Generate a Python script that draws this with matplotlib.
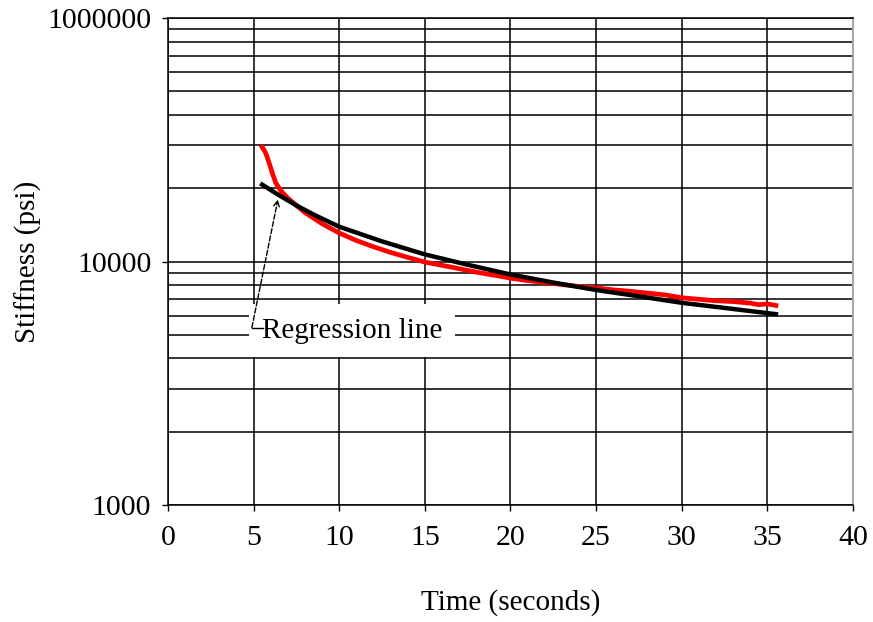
import numpy as np
import matplotlib.pyplot as plt
from matplotlib.ticker import LogLocator, NullFormatter

time_s = [5.5, 5.7, 5.9, 6.1, 6.3, 6.6, 7.0, 7.5, 8.0, 9.0, 10.0, 11.0, 12.0, 13.0,
          14.0, 15.0, 16.0, 17.0, 18.0, 19.0, 20.0, 21.0, 22.0, 23.0, 24.0, 25.0,
          26.0, 27.0, 28.0, 29.0, 30.0, 31.0, 32.0, 33.0, 34.0, 34.5, 35.0, 35.5]
stiffness = [29500, 28000, 25500, 23000, 21000, 19500, 18200, 17000, 15900, 14300,
             13100, 12200, 11500, 10900, 10400, 9950, 9650, 9350, 9050, 8800, 8550,
             8350, 8200, 8050, 7900, 7800, 7650, 7550, 7420, 7300, 7100, 7000, 6900,
             6850, 6750, 6650, 6700, 6600]

# regression line (black)
time_fit = [5.5, 6.5, 7.5, 8.5, 10.0, 12.5, 15.0, 17.5, 20.0, 22.5, 25.0, 27.5,
            30.0, 32.5, 35.5]
stiff_fit = [20700, 18700, 17000, 15600, 13900, 12100, 10700, 9700, 8850, 8200,
             7640, 7200, 6770, 6450, 6080]

ytick_vals = [1000, 10000, 100000]
ytick_labels = ['1000', '10000', '1000000']
xtick_vals = [0, 5, 10, 15, 20, 25, 30, 35, 40]

plt.rcParams['font.family'] = ['Liberation Serif', 'DejaVu Serif']

fig = plt.figure(figsize=(8.73, 6.22), dpi=100)
ax = fig.add_axes([0.1924, 0.188, 0.7847, 0.783])

ax.set_yscale('log')
ax.set_xlim(0, 40)
ax.set_ylim(1000, 100000)
ax.set_xticks(xtick_vals)
ax.set_xticklabels([str(v) for v in xtick_vals])
ax.set_yticks(ytick_vals)
ax.set_yticklabels(ytick_labels)
ax.yaxis.set_minor_locator(LogLocator(base=10, subs=range(2, 10)))
ax.yaxis.set_minor_formatter(NullFormatter())
ax.tick_params(axis='both', which='major', labelsize=21.5, length=4, width=1, pad=8)
ax.tick_params(axis='x', which='major', pad=10)
ax.tick_params(axis='y', which='minor', length=0)

ax.grid(which='both', axis='y', color='black', lw=1.1, zorder=0)
ax.grid(which='major', axis='x', color='black', lw=1.1, zorder=0)
ax.set_axisbelow(True)

for side in ['left', 'bottom', 'top']:
    ax.spines[side].set_color('black')
    ax.spines[side].set_linewidth(1.1)
ax.spines['right'].set_color('#a8a8a8')
ax.spines['right'].set_linewidth(1.5)

ax.plot(time_s, stiffness, color='red', lw=3.4, zorder=3)
ax.plot(time_fit, stiff_fit, color='black', lw=3.2, zorder=4)

ax.set_xlabel('Time (seconds)', fontsize=21, labelpad=28)
ax.set_ylabel('Stiffness (psi)', fontsize=21, labelpad=4)

# callout
label_xy = (10.74, 5210)
corner_xy = (4.9, 5360)
head_xy = (6.42, 18000)
ax.text(label_xy[0], label_xy[1], 'Regression line', fontsize=21,
        ha='center', va='center', zorder=5,
        bbox=dict(boxstyle='square,pad=0.45', fc='white', ec='none'))
ax.plot([corner_xy[0], 5.55], [corner_xy[1], corner_xy[1]], color='black', lw=1, zorder=6)
ax.annotate('', xy=head_xy, xytext=corner_xy, zorder=6,
            arrowprops=dict(arrowstyle='->', linestyle='--', color='black', lw=1,
                            shrinkA=0, shrinkB=0))

fig.savefig('out.png', dpi=100)
